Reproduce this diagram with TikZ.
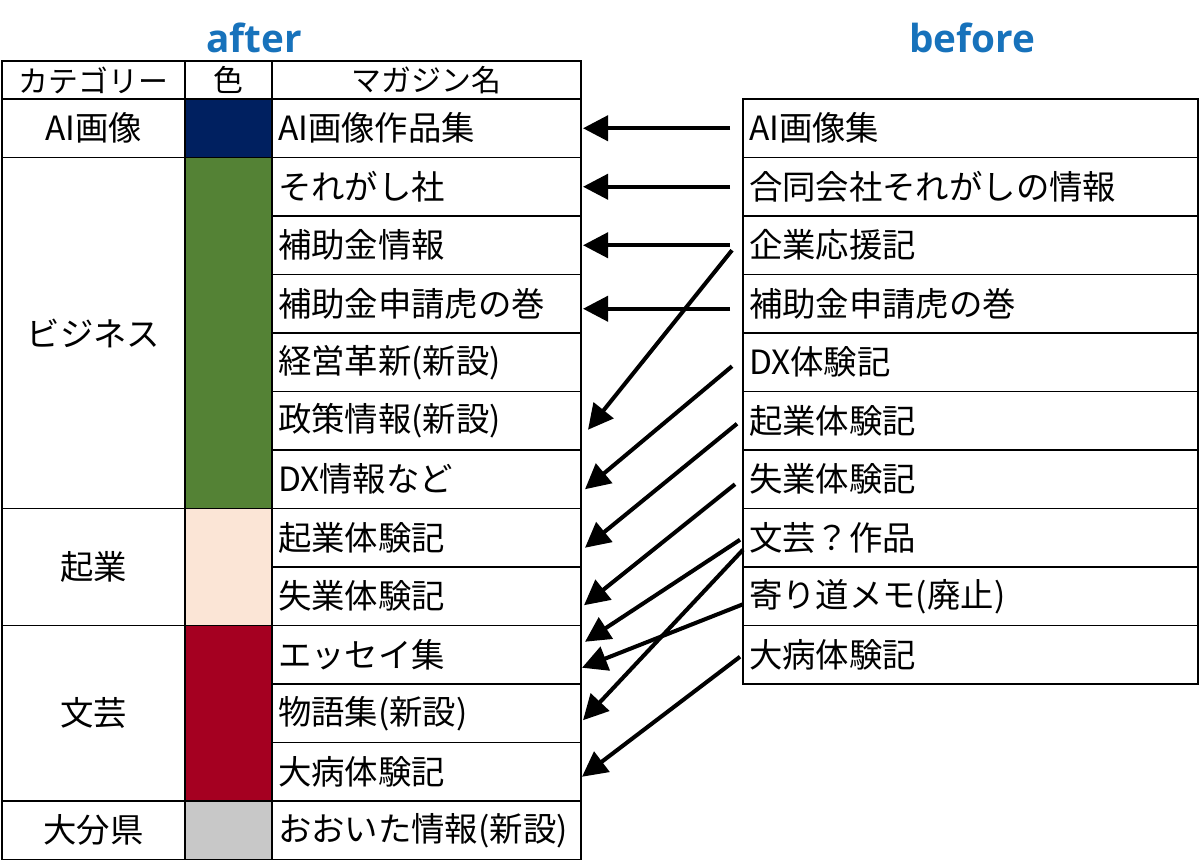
\documentclass[tikz,border=0pt]{standalone}
\usepackage{fontspec}
\setmainfont{Noto Sans CJK JP}
\newfontfamily\titlefont{Open Sans}[BoldFont={Open Sans Bold}]
\usetikzlibrary{positioning, arrows.meta}
\usepackage{xcolor}
\definecolor{titleblue}{RGB}{23,114,187}
\definecolor{ainavy}{RGB}{0,32,96}
\definecolor{bizgreen}{RGB}{84,130,53}
\definecolor{kigyopeach}{RGB}{251,229,214}
\definecolor{bungeired}{RGB}{165,0,33}
\definecolor{oitagray}{RGB}{200,200,200}

\tikzset{
  cell/.style={draw, line width=0.6pt, inner sep=0pt, outer sep=0pt},
  headcell/.style={cell, minimum height=0.76cm, font=\fontsize{17}{19}\selectfont},
  catcell/.style={cell, minimum width=3.66cm, font=\fontsize{19}{22}\selectfont},
  colcell/.style={cell, minimum width=1.74cm},
  magcell/.style={cell, minimum height=1.17cm, inner xsep=0.12cm, text width=5.94cm,
    align=left, font=\fontsize{19}{22}\selectfont},
  oldcell/.style={magcell, text width=8.86cm},
  title/.style={text=titleblue, font=\titlefont\bfseries\fontsize{22}{26}\selectfont},
  move/.style={-{Triangle[length=0.5cm, width=0.5cm]}, line width=2.3pt},
}

\begin{document}
\begin{tikzpicture}
    \useasboundingbox (0,0) rectangle (24,-17.24);
    % Titles
    \node[title] (after) at (5.08,-0.76) {after};
    \node[title] (before) at (19.44,-0.76) {before};
    % After table: header
    \node[headcell, minimum width=3.66cm, anchor=north west] (hcat) at (0.04,-1.22) {カテゴリー};
    \node[headcell, minimum width=1.74cm, right=0pt of hcat] (hcol) {色};
    \node[headcell, minimum width=6.18cm, right=0pt of hcol] (hmag) {マガジン名};
    % After table: categories
    \node[catcell, minimum height=1.17cm, below=0pt of hcat] (cai) {AI画像};
    \node[catcell, minimum height=7.02cm, below=0pt of cai] (cbiz) {ビジネス};
    \node[catcell, minimum height=2.34cm, below=0pt of cbiz] (ckigyo) {起業};
    \node[catcell, minimum height=3.51cm, below=0pt of ckigyo] (cbungei) {文芸};
    \node[catcell, minimum height=1.17cm, below=0pt of cbungei] (coita) {大分県};
    % After table: colours
    \node[colcell, fill=ainavy, minimum height=1.17cm, below=0pt of hcol] (kai) {};
    \node[colcell, fill=bizgreen, minimum height=7.02cm, below=0pt of kai] (kbiz) {};
    \node[colcell, fill=kigyopeach, minimum height=2.34cm, below=0pt of kbiz] (kkigyo) {};
    \node[colcell, fill=bungeired, minimum height=3.51cm, below=0pt of kkigyo] (kbungei) {};
    \node[colcell, fill=oitagray, minimum height=1.17cm, below=0pt of kbungei] (koita) {};
    % After table: magazines
    \node[magcell, below=0pt of hmag] (m1) {AI画像作品集};
    \node[magcell, below=0pt of m1] (m2) {それがし社};
    \node[magcell, below=0pt of m2] (m3) {補助金情報};
    \node[magcell, below=0pt of m3] (m4) {補助金申請虎の巻};
    \node[magcell, below=0pt of m4] (m5) {経営革新(新設)};
    \node[magcell, below=0pt of m5] (m6) {政策情報(新設)};
    \node[magcell, below=0pt of m6] (m7) {DX情報など};
    \node[magcell, below=0pt of m7] (m8) {起業体験記};
    \node[magcell, below=0pt of m8] (m9) {失業体験記};
    \node[magcell, below=0pt of m9] (m10) {エッセイ集};
    \node[magcell, below=0pt of m10] (m11) {物語集(新設)};
    \node[magcell, below=0pt of m11] (m12) {大病体験記};
    \node[magcell, below=0pt of m12] (m13) {おおいた情報(新設)};
    % Before table
    \node[oldcell, anchor=north west] (b1) at (14.86,-1.98) {AI画像集};
    \node[oldcell, below=0pt of b1] (b2) {合同会社それがしの情報};
    \node[oldcell, below=0pt of b2] (b3) {企業応援記};
    \node[oldcell, below=0pt of b3] (b4) {補助金申請虎の巻};
    \node[oldcell, below=0pt of b4] (b5) {DX体験記};
    \node[oldcell, below=0pt of b5] (b6) {起業体験記};
    \node[oldcell, below=0pt of b6] (b7) {失業体験記};
    \node[oldcell, below=0pt of b7] (b8) {文芸？作品};
    \node[oldcell, below=0pt of b8] (b9) {寄り道メモ(廃止)};
    \node[oldcell, below=0pt of b9] (b10) {大病体験記};
    % Moves
    \draw[move] ([xshift=-0.26cm]b1.west) -- ([xshift=0.04cm]m1.east);
    \draw[move] ([xshift=-0.26cm]b2.west) -- ([xshift=0.04cm]m2.east);
    \draw[move] ([xshift=-0.26cm]b3.west) -- ([xshift=0.04cm]m3.east);
    \draw[move] ([xshift=-0.22cm, yshift=-0.1cm]b3.west) -- ([xshift=0.14cm, yshift=-0.18cm]m6.east);
    \draw[move] ([xshift=-0.26cm, yshift=-0.1cm]b4.west) -- ([xshift=0.04cm, yshift=-0.1cm]m4.east);
    \draw[move] ([xshift=-0.22cm, yshift=-0.08cm]b5.west) -- ([xshift=0.08cm, yshift=-0.2cm]m7.east);
    \draw[move] ([xshift=-0.12cm, yshift=-0.06cm]b6.west) -- ([xshift=0.08cm, yshift=-0.2cm]m8.east);
    \draw[move] ([xshift=-0.16cm, yshift=-0.1cm]b7.west) -- ([xshift=0.06cm, yshift=-0.18cm]m9.east);
    \draw[move] ([xshift=-0.06cm, yshift=-0.04cm]b8.west) -- ([xshift=0.08cm, yshift=0.26cm]m10.east);
    \draw[move] ([xshift=0cm, yshift=-0.24cm]b8.west) -- ([xshift=0.04cm, yshift=-0.14cm]m11.east);
    \draw[move] ([xshift=0cm, yshift=-0.16cm]b9.west) -- ([xshift=0.02cm, yshift=-0.26cm]m10.east);
    \draw[move] ([xshift=-0.06cm, yshift=-0.04cm]b10.west) -- ([xshift=0.02cm, yshift=-0.1cm]m12.east);
\end{tikzpicture}
\end{document}
